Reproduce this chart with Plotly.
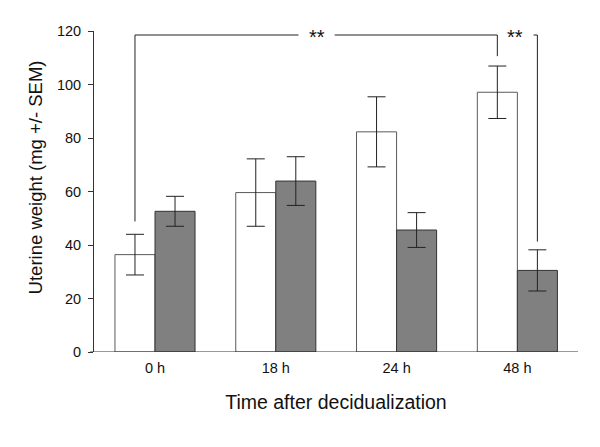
import plotly.graph_objects as go

categories = ["0 h", "18 h", "24 h", "48 h"]
white_vals = [36.4, 59.6, 82.3, 97.1]
white_err = [7.6, 12.6, 13.1, 9.8]
gray_vals = [52.6, 63.9, 45.6, 30.5]
gray_err = [5.6, 9.1, 6.5, 7.7]

# significance brackets
bracket_top = 118.5
star_label = "**"

bargap = 0.337
off = (1 - bargap) / 4.0  # offset of each bar centre from category centre

FONT = "Liberation Sans, Arial, sans-serif"

fig = go.Figure()
fig.add_trace(go.Bar(
    x=categories, y=white_vals, name="white",
    marker=dict(color="white", line=dict(color="#5a5a5a", width=1)),
    error_y=dict(type="data", array=white_err, visible=True, color="#222222", thickness=1, width=9),
))
fig.add_trace(go.Bar(
    x=categories, y=gray_vals, name="gray",
    marker=dict(color="#808080", line=dict(color="#333333", width=1)),
    error_y=dict(type="data", array=gray_err, visible=True, color="#222222", thickness=1, width=9),
))

# (left x, left bottom y, right x, right bottom y, star x)
brackets = [
    (0 - off, 48.8, 3 - off, 110.6, 1.338),
    (3 - off, None, 3 + off, 41.3, 2.984),
]
half_gap = 0.15
line = dict(color="#222222", width=1)
shapes = []
x0, y0, x1, y1, sx = brackets[0]
shapes.append(dict(type="path", xref="x", yref="y",
                   path=f"M {x0} {y0} L {x0} {bracket_top} L {sx - half_gap} {bracket_top}", line=line))
shapes.append(dict(type="path", xref="x", yref="y",
                   path=f"M {sx + half_gap} {bracket_top} L {x1} {bracket_top} L {x1} {y1}", line=line))
x0, y0, x1, y1, sx = brackets[1]
shapes.append(dict(type="path", xref="x", yref="y",
                   path=f"M {sx + half_gap} {bracket_top} L {x1} {bracket_top} L {x1} {y1}", line=line))
# x axis line extends slightly left of y axis
shapes.append(dict(type="line", xref="paper", yref="y", x0=-0.008, x1=1, y0=0, y1=0,
                   line=dict(color="#333333", width=1)))

annotations = []
for b in brackets:
    annotations.append(dict(x=b[4], y=bracket_top, xref="x", yref="y", text=star_label,
                            showarrow=False, yanchor="middle", yshift=-2,
                            font=dict(family=FONT, size=20, color="#111111")))
annotations.append(dict(x=0, xref="paper", xshift=-59, xanchor="center", y=0.544, yref="paper",
                        yanchor="middle",
                        text="Uterine weight (mg +/- SEM)", showarrow=False, textangle=-90,
                        font=dict(family=FONT, size=18.5, color="#111111")))

fig.update_layout(
    width=600, height=447,
    margin=dict(l=94, r=22, t=31, b=95),
    paper_bgcolor="white", plot_bgcolor="white",
    barmode="group", bargap=bargap, bargroupgap=0,
    showlegend=False,
    font=dict(family=FONT, size=14.5, color="#111111"),
    shapes=shapes,
    annotations=annotations,
    xaxis=dict(range=[-0.505, 3.502], showgrid=False, ticks="", showline=False,
               zeroline=False, tickfont=dict(size=14.5), ticklabelstandoff=5,
               title=dict(text="Time after decidualization", font=dict(size=19.5), standoff=20)),
    yaxis=dict(range=[0, 120], dtick=20, showgrid=False, zeroline=False, ticks="outside",
               ticklen=5, tickcolor="#333333", showline=True, linecolor="#333333", linewidth=1,
               tickfont=dict(size=14.5), ticklabelstandoff=4),
)

fig.write_html("out.html", config={"displayModeBar": False},
               post_script="document.body.style.margin='0';")
